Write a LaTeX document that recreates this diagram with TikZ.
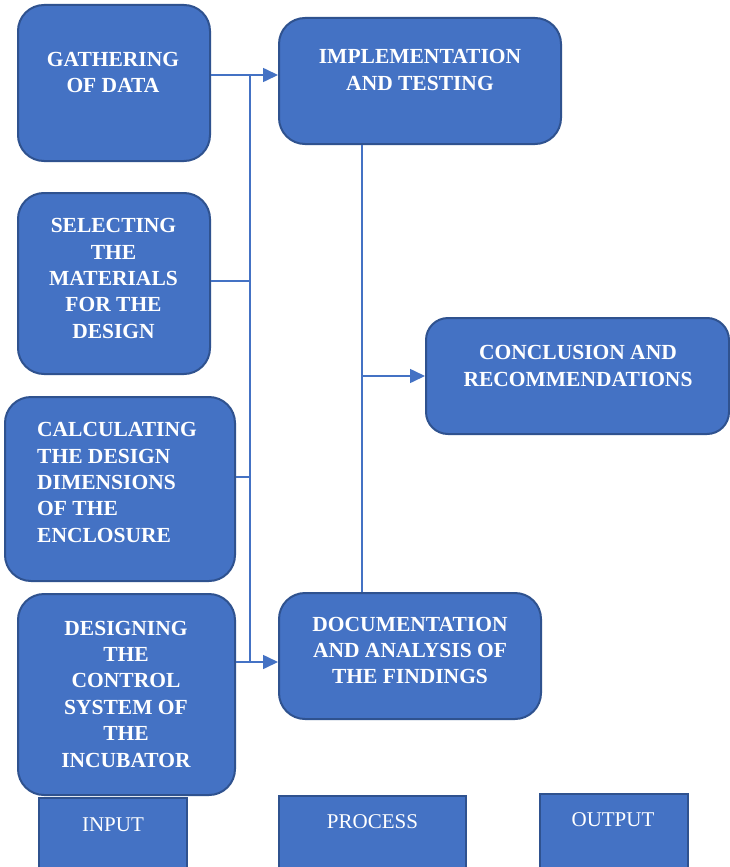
\documentclass[tikz,border=0pt]{standalone}
\usepackage{fontspec}
\setmainfont{Liberation Serif}
\usetikzlibrary{arrows.meta}
\definecolor{fillc}{HTML}{4472C4}
\definecolor{bordc}{HTML}{2F528F}
\definecolor{linec}{HTML}{4472C4}
\tikzset{
  rbox/.style={draw=bordc, fill=fillc, line width=2pt, rounded corners=26pt, inner sep=0pt},
  sbox/.style={draw=bordc, fill=fillc, line width=2pt, inner sep=0pt},
  btxt/.style={text=white, inner sep=0pt, align=center, font=\fontsize{21.5}{26.4}\selectfont\bfseries},
  ltxt/.style={text=white, inner sep=0pt, align=left, font=\fontsize{21.5}{26.4}\selectfont\bfseries},
  ntxt/.style={text=white, inner sep=0pt, font=\fontsize{21}{26.4}\selectfont},
  conn/.style={draw=linec, line width=1.6pt},
  tip/.style={-{Triangle[length=15pt,width=14pt]}}
}
\begin{document}
\begin{tikzpicture}[x=1pt,y=-1pt]
\clip (0,0) rectangle (730,867);
\fill[white] (0,0) rectangle (730,867);
% boxes
\node[rbox, minimum width=192pt, minimum height=156pt] (g) at (114,83) {};
\node[rbox, minimum width=282pt, minimum height=126pt] (im) at (420,81) {};
\node[rbox, minimum width=192pt, minimum height=181pt] (s) at (114,283.5) {};
\node[rbox, minimum width=303pt, minimum height=116pt, rounded corners=22pt] (con) at (577.5,376) {};
\node[rbox, minimum width=230pt, minimum height=184pt] (c) at (120,489) {};
\node[rbox, minimum width=217pt, minimum height=201pt] (d) at (126.5,694.5) {};
\node[rbox, minimum width=262pt, minimum height=126pt] (doc) at (410,656) {};
\node[sbox, minimum width=148pt, minimum height=100pt] (inp) at (113,848) {};
\node[sbox, minimum width=187pt, minimum height=100pt] (pro) at (372.5,846) {};
\node[sbox, minimum width=148pt, minimum height=100pt] (out) at (614,844) {};
% texts
\node[btxt] (gt) at (113,72.5) {GATHERING\\OF DATA};
\node[btxt] (imt) at (420,70) {IMPLEMENTATION\\AND TESTING};
\node[btxt] (st) at (113.5,278.5) {SELECTING\\THE\\MATERIALS\\FOR THE\\DESIGN};
\node[btxt] (cont) at (578,366) {CONCLUSION AND\\RECOMMENDATIONS};
\node[ltxt, anchor=west] (ct) at (37,482.5) {CALCULATING\\THE DESIGN\\DIMENSIONS\\OF THE\\ENCLOSURE};
\node[btxt] (dt) at (126,694) {DESIGNING\\THE\\CONTROL\\SYSTEM OF\\THE\\INCUBATOR};
\node[btxt] (doct) at (410,650.5) {DOCUMENTATION\\AND ANALYSIS OF\\THE FINDINGS};
\node[ntxt] (inpt) at (113,825) {INPUT};
\node[ntxt] (prot) at (372.5,822) {PROCESS};
\node[ntxt] (outt) at (613,820) {OUTPUT};
% connectors
\coordinate (t1) at (250,75);
\coordinate (t2) at (250,662);
\draw[conn] (t1) -- (t2);
\draw[conn,tip] ([yshift=8pt]g.east) -- ([yshift=6pt]im.west);
\draw[conn] ([yshift=2.5pt]s.east) -- ([yshift=2.5pt]s.east -| t1);
\draw[conn] ([yshift=12pt]c.east) -- ([yshift=12pt]c.east -| t1);
\draw[conn,tip] ([yshift=32.5pt]d.east) -- ([yshift=-6pt]doc.west);
\draw[conn] ([xshift=-58pt]im.south) -- ([xshift=-48pt]doc.north);
\draw[conn,tip] (con.west -| doc.north) ++(-48pt,0) -- (con.west);
\end{tikzpicture}
\end{document}
